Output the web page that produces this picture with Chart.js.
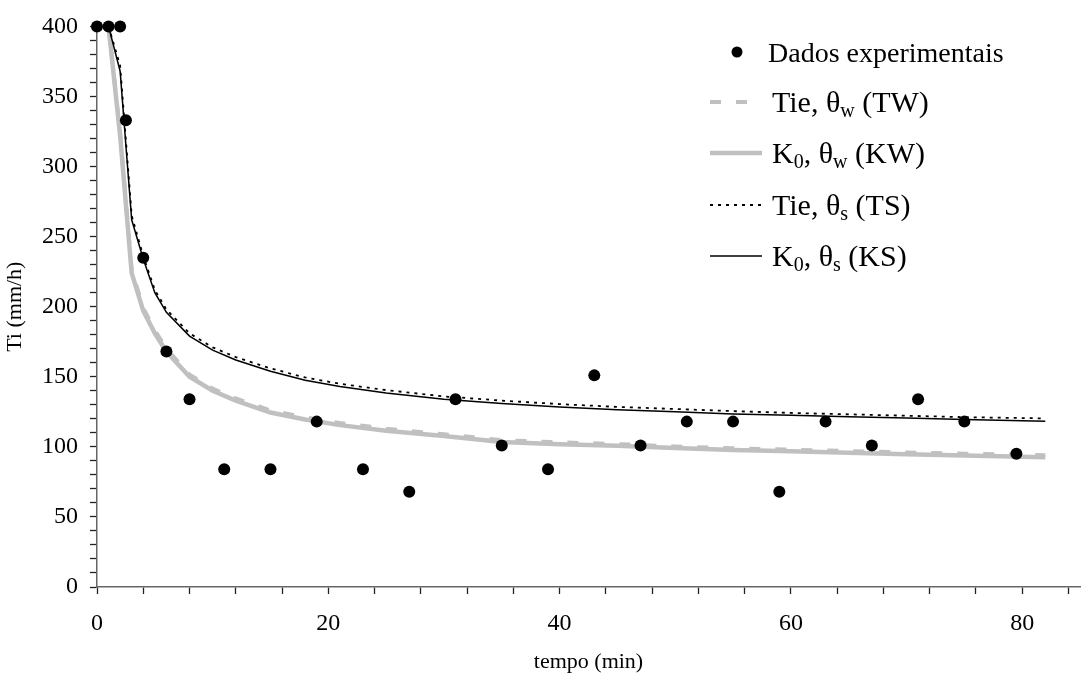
<!DOCTYPE html>
<html>
<head>
<meta charset="utf-8">
<title>Taxa de infiltração</title>
<script src="https://cdn.jsdelivr.net/npm/chart.js@4"></script>
<style>
  html, body { margin: 0; padding: 0; background: #fff; }
</style>
</head>
<body>
<canvas id="grafico" width="1086" height="682"></canvas>
<script>
// medições de campo
const tempoObs = [0, 1, 2, 2.5, 4, 6, 8, 11, 15, 19, 23, 27, 31, 35, 39, 43, 47, 51, 55, 59, 63, 67, 71, 75, 79.5];
const tiObs    = [400, 400, 400, 333, 235, 168, 134, 84, 84, 118, 84, 68, 134, 101, 84, 151, 101, 118, 118, 68, 118, 101, 134, 118, 95];

// curvas ajustadas (mesmos instantes para as quatro)
const tempoCurva = [1, 2, 3, 4, 5, 6, 8, 10, 12, 15, 18, 21, 25, 30, 35, 40, 45, 50, 55, 60, 65, 70, 75, 82];
const tiTW = [400, 324, 226, 199, 183, 170, 151.5, 141.5, 134.5, 126, 121, 117, 113, 109, 104.8, 103.2, 102, 100.3, 99, 98, 97, 96, 95.1, 94];
const tiKW = [400, 322, 224, 197, 181, 168, 150, 140, 133, 124.5, 119.5, 115.5, 111.5, 107.8, 103.5, 101.9, 100.7, 99.2, 97.8, 96.8, 95.8, 94.8, 93.9, 92.6];
const tiTS = [400, 372, 265, 236, 212, 198, 181, 171, 164, 156, 149.5, 145, 140.5, 136, 133, 130.5, 128.5, 127, 125.5, 124.2, 123.2, 122.2, 121.2, 120.3];
const tiKS = [400, 368, 262, 234, 210, 196, 179, 169, 162, 154, 147.5, 143, 138.5, 134, 131, 128.5, 126.5, 125, 123.5, 122.5, 121.5, 120.5, 119.5, 118.2];

const serif = '"Liberation Serif", "Times New Roman", serif';
Chart.defaults.font.family = serif;
Chart.defaults.color = '#000';

const pares = (xs, ys) => xs.map((x, i) => ({ x: x, y: ys[i] }));

// legenda desenhada à mão para poder usar índices (θw, K0 ...)
const legenda = [
  [['Dados experimentais']],
  [['Tie, θ'], ['w', true], [' (TW)']],
  [['K'], ['0', true], [', θ'], ['w', true], [' (KW)']],
  [['Tie, θ'], ['s', true], [' (TS)']],
  [['K'], ['0', true], [', θ'], ['s', true], [' (KS)']]
];

const legendaPlugin = {
  id: 'legendaIndices',
  afterDatasetsDraw(chart, args, opts) {
    const ctx = chart.ctx;
    ctx.save();
    legenda.forEach((partes, i) => {
      const ds = chart.data.datasets[i];
      const y = opts.linhas[i];
      if (ds.showLine) {
        ctx.beginPath();
        ctx.strokeStyle = ds.borderColor;
        ctx.lineWidth = ds.borderWidth;
        ctx.setLineDash(ds.borderDash || []);
        ctx.moveTo(opts.x0, y);
        ctx.lineTo(opts.x1, y);
        ctx.stroke();
        ctx.setLineDash([]);
      } else {
        ctx.beginPath();
        ctx.fillStyle = ds.backgroundColor;
        ctx.arc(737, y, 5.5, 0, Math.PI * 2);
        ctx.fill();
      }
      // primeira linha um pouco menor e mais à esquerda
      const tam = i === 0 ? 28 : 30;
      let x = i === 0 ? opts.xTexto - 4 : opts.xTexto;
      ctx.fillStyle = '#000';
      ctx.textBaseline = 'alphabetic';
      partes.forEach(([txt, sub]) => {
        ctx.font = (sub ? 20 : tam) + 'px ' + serif;
        ctx.fillText(txt, x, y + 10 + (sub ? 5 : 0));
        x += ctx.measureText(txt).width;
      });
    });
    ctx.restore();
  }
};

new Chart(document.getElementById('grafico'), {
  type: 'scatter',
  data: {
    datasets: [
      {
        label: 'Dados experimentais',
        data: pares(tempoObs, tiObs),
        backgroundColor: '#000',
        borderWidth: 0,
        pointRadius: 6,
        showLine: false,
        clip: false,
        order: 0
      },
      {
        label: 'Tie, θw (TW)',
        data: pares(tempoCurva, tiTW),
        showLine: true,
        borderColor: '#c0c0c0',
        borderWidth: 4,
        borderDash: [11, 15],
        pointRadius: 0,
        clip: false,
        order: 3
      },
      {
        label: 'K0, θw (KW)',
        data: pares(tempoCurva, tiKW),
        showLine: true,
        borderColor: '#c0c0c0',
        borderWidth: 4.5,
        pointRadius: 0,
        clip: false,
        order: 4
      },
      {
        label: 'Tie, θs (TS)',
        data: pares(tempoCurva, tiTS),
        showLine: true,
        borderColor: '#000',
        borderWidth: 1.8,
        borderDash: [3, 5],
        pointRadius: 0,
        clip: false,
        order: 2
      },
      {
        label: 'K0, θs (KS)',
        data: pares(tempoCurva, tiKS),
        showLine: true,
        borderColor: '#000',
        borderWidth: 1.5,
        pointRadius: 0,
        clip: false,
        order: 1
      }
    ]
  },
  options: {
    responsive: false,
    devicePixelRatio: 1,
    animation: false,
    events: [],
    layout: { padding: { top: 24, right: 1, left: 0, bottom: 0 } },
    plugins: {
      legend: { display: false },
      tooltip: { enabled: false },
      legendaIndices: { x0: 710, x1: 762, xTexto: 772, linhas: [52, 102, 153, 205, 256] }
    },
    scales: {
      x: {
        type: 'linear',
        min: 0,
        max: 85,
        afterFit: (s) => { s.height = 95; },
        ticks: {
          stepSize: 4,
          includeBounds: false,
          autoSkip: false,
          maxRotation: 0,
          padding: 15,
          font: { size: 24 },
          callback: (v) => (v % 20 === 0 ? v : '')
        },
        grid: { drawOnChartArea: false, tickLength: 7, tickColor: '#222', tickWidth: 1.3 },
        border: { color: '#666', width: 1.5 },
        title: { display: true, text: 'tempo (min)', font: { size: 22 }, padding: { top: 0, bottom: 7 } }
      },
      y: {
        min: 0,
        max: 400,
        afterFit: (s) => { s.width = 97; },
        ticks: {
          stepSize: 10,
          autoSkip: false,
          padding: 12,
          font: { size: 24 },
          callback: (v) => (v % 50 === 0 ? v : '')
        },
        grid: { drawOnChartArea: false, tickLength: 7, tickColor: '#222', tickWidth: 1.3 },
        border: { color: '#666', width: 1.5 },
        title: { display: true, text: 'Ti (mm/h)', font: { size: 22 }, padding: { top: 2, bottom: 0 } }
      }
    }
  },
  plugins: [legendaPlugin]
});
</script>
</body>
</html>
